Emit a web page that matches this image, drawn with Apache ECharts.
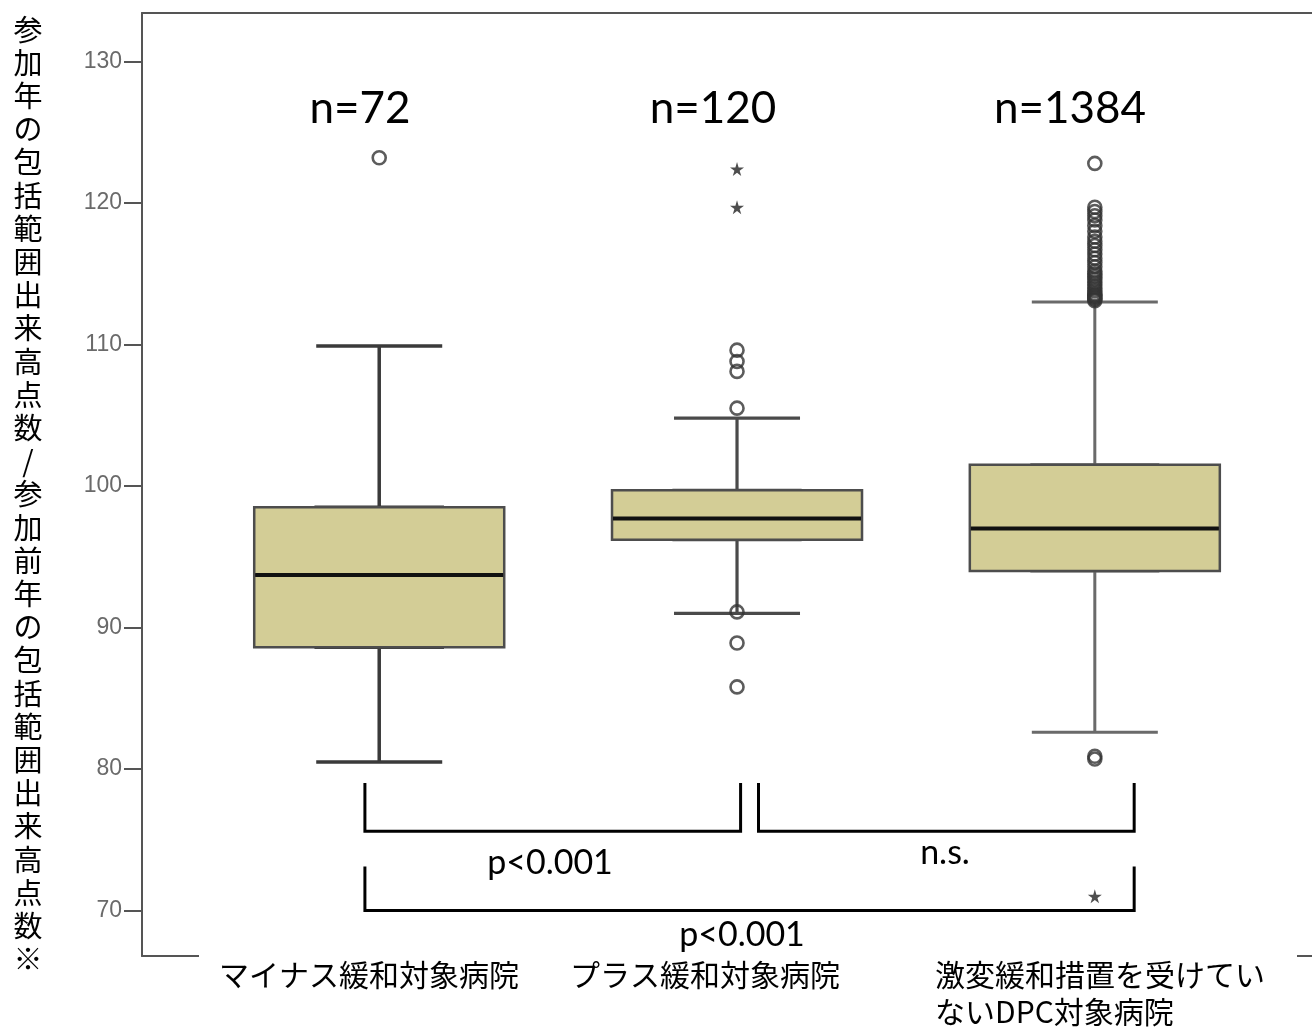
<!DOCTYPE html>
<html><head><meta charset="utf-8">
<script src="https://cdn.jsdelivr.net/npm/echarts@6/dist/echarts.min.js"></script>
<style>html,body{margin:0;padding:0;background:#fff}#c{width:1312px;height:1030px}</style>
</head><body><div id="c"></div>
<script>
// ---- data ----
const categories = ['マイナス緩和対象病院', 'プラス緩和対象病院', '激変緩和措置を受けてい\nないDPC対象病院'];
const groupN = ['n=72', 'n=120', 'n=1384'];
// [lower whisker, Q1, median, Q3, upper whisker]
const boxStats = [
  [80.5, 88.6, 93.7, 98.5, 109.9],
  [91.0, 96.2, 97.7, 99.7, 104.8],
  [82.6, 94.0, 97.0, 101.5, 113.0]
];
const outliersGroup1 = [123.2];
const outliersGroup2 = [109.6, 108.8, 108.1, 105.5, 91.1, 88.9, 85.8];
const outliersGroup3 = [122.8, 119.7, 119.4, 119.1, 118.8, 118.4, 118.0, 117.6, 117.3, 117.0, 116.7, 116.4, 116.1, 115.8, 115.5, 115.2, 115.0, 114.8, 114.6, 114.4, 114.2, 114.0, 113.8, 113.6, 113.5, 113.4, 113.3, 113.2, 113.1, 80.9, 80.7];
const extremesGroup2 = [122.4, 119.7];
const extremesGroup3 = [71.0];
const yTicks = [70, 80, 90, 100, 110, 120, 130];
const yTitle = '参加年の包括範囲出来高点数/参加前年の包括範囲出来高点数※';
const pLabels = ['p<0.001', 'n.s.', 'p<0.001'];
// comparison brackets in data units: [xFrom, xTo, yTop, yBottom]
const brackets = [
  [-0.04, 1.01, 79.0, 75.6],
  [1.06, 2.11, 79.0, 75.6],
  [-0.04, 2.11, 73.1, 70.0]
];

// ---- styles ----
const whiskerStyles = [
  {borderColor: '#3a3a3a', borderWidth: 3.5},
  {borderColor: '#4a4a4a', borderWidth: 3.2},
  {borderColor: '#6a6a6a', borderWidth: 3}
];
const star = 'path://M50,0 L61,35 L98,35 L68,57 L79,91 L50,70 L21,91 L32,57 L2,35 L39,35 Z';

const circleData = []
  .concat(outliersGroup1.map(v => [0, v]))
  .concat(outliersGroup2.map(v => [1, v]))
  .concat(outliersGroup3.map(v => [2, v]));
const starData = []
  .concat(extremesGroup2.map(v => [1, v]))
  .concat(extremesGroup3.map(v => [2, v]));

const frameLine = {show: true, onZero: false, lineStyle: {color: '#555', width: 2}};
const xAxisBase = {type: 'value', min: -0.663, max: 2.607, gridIndex: 0,
  axisTick: {show: false}, axisLabel: {show: false}, splitLine: {show: false}};

const bracketSeries = brackets.map(b => ({
  type: 'line', xAxisIndex: 0, silent: true, showSymbol: false, symbol: 'none', z: 6,
  lineStyle: {color: '#000', width: 3, join: 'miter'},
  data: [[b[0], b[2]], [b[0], b[3]], [b[1], b[3]], [b[1], b[2]]]
}));

const jp = '"Noto Sans CJK JP", sans-serif';
const latin = 'Lato, "Open Sans", sans-serif';

const nX = [360, 713, 1070];
const graphics = [
  {type: 'rect', shape: {x: 199, y: 948, width: 1098, height: 14}, style: {fill: '#fff'}, z: 50, silent: true},
  {type: 'text', x: 28, y: 13, z: 60, style: {text: yTitle.split('').join('\n'), font: '29px ' + jp, fill: '#000', lineHeight: 33.2, textAlign: 'center', align: 'center', textVerticalAlign: 'top', verticalAlign: 'top'}},
  {type: 'text', x: 369, y: 975, z: 60, style: {text: categories[0], font: '30px ' + jp, fill: '#000', textAlign: 'center', align: 'center', textVerticalAlign: 'middle', verticalAlign: 'middle'}},
  {type: 'text', x: 705, y: 975, z: 60, style: {text: categories[1], font: '30px ' + jp, fill: '#000', textAlign: 'center', align: 'center', textVerticalAlign: 'middle', verticalAlign: 'middle'}},
  {type: 'text', x: 935, y: 956, z: 60, style: {text: categories[2], font: '30px ' + jp, fill: '#000', lineHeight: 37, textAlign: 'left', align: 'left', textVerticalAlign: 'top', verticalAlign: 'top'}},
  {type: 'text', x: 550, y: 863, z: 60, style: {text: pLabels[0], font: '34px ' + latin, fill: '#000', textAlign: 'center', align: 'center', textVerticalAlign: 'middle', verticalAlign: 'middle'}},
  {type: 'text', x: 945, y: 853, z: 60, style: {text: pLabels[1], font: '34px ' + latin, fill: '#000', textAlign: 'center', align: 'center', textVerticalAlign: 'middle', verticalAlign: 'middle'}},
  {type: 'text', x: 742, y: 935, z: 60, style: {text: pLabels[2], font: '34px ' + latin, fill: '#000', textAlign: 'center', align: 'center', textVerticalAlign: 'middle', verticalAlign: 'middle'}}
].concat(groupN.map((t, i) => ({
  type: 'text', x: nX[i], y: 109, z: 60,
  style: {text: t, font: '44px ' + latin, fill: '#000', textAlign: 'center', align: 'center', textVerticalAlign: 'middle', verticalAlign: 'middle'}
})));

const chart = echarts.init(document.getElementById('c'), null, {renderer: 'canvas'});
chart.setOption({
  animation: false,
  backgroundColor: '#fff',
  grid: {left: 142, right: 0, top: 13, bottom: 74, show: false},
  xAxis: [
    Object.assign({}, xAxisBase, {position: 'bottom', axisLine: frameLine}),
    Object.assign({}, xAxisBase, {position: 'top', axisLine: frameLine}),
    Object.assign({}, xAxisBase, {show: false})
  ],
  yAxis: {
    type: 'value', min: 66.78, max: 133.43,
    axisLine: {show: true, onZero: false, lineStyle: {color: '#555', width: 2}},
    axisTick: {show: true, length: 18, lineStyle: {color: '#555', width: 2}, customValues: yTicks},
    axisLabel: {customValues: yTicks, fontSize: 23, color: '#6a6a6a', margin: 20, fontFamily: 'Liberation Sans, Arial, sans-serif'},
    splitLine: {show: false}
  },
  series: [
    {
      type: 'boxplot', xAxisIndex: 0, silent: true, boxWidth: [126, 126], z: 2,
      itemStyle: {color: '#fff', borderColor: '#444', borderWidth: 3},
      emphasis: {disabled: true},
      data: boxStats.map((s, i) => ({value: [i].concat(s), itemStyle: whiskerStyles[i]}))
    },
    {
      type: 'boxplot', xAxisIndex: 1, silent: true, boxWidth: [250, 250], z: 3,
      itemStyle: {color: '#D3CD96', borderColor: '#4d4d4d', borderWidth: 2.5},
      emphasis: {disabled: true},
      data: boxStats.map((s, i) => [i, s[1], s[1], s[2], s[3], s[3]])
    },
    {
      type: 'boxplot', xAxisIndex: 2, silent: true, boxWidth: [248, 248], z: 4,
      itemStyle: {color: 'transparent', borderColor: '#111', borderWidth: 4},
      emphasis: {disabled: true},
      data: boxStats.map((s, i) => [i, s[2], s[2], s[2], s[2], s[2]])
    },
    {
      type: 'scatter', xAxisIndex: 0, silent: true, z: 5, symbol: 'circle', symbolSize: 13,
      itemStyle: {color: 'rgba(0,0,0,0)', borderColor: '#333', borderWidth: 2.6},
      data: circleData
    },
    {
      type: 'scatter', xAxisIndex: 0, silent: true, z: 5, symbol: star, symbolSize: 14,
      itemStyle: {color: '#222'},
      data: starData
    }
  ].concat(bracketSeries),
  graphic: graphics
});
</script>
</body></html>
